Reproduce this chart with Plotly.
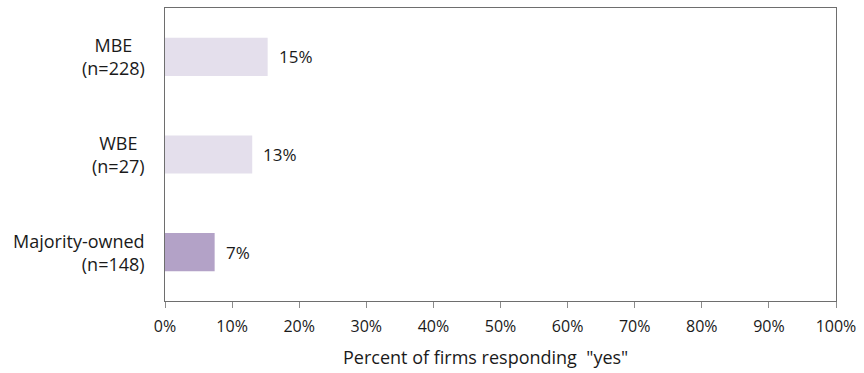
import plotly.graph_objects as go

# Survey results: share of firms answering "yes", by ownership group
groups = ["Majority-owned", "WBE", "MBE"]
sample_sizes = [148, 27, 228]
pct_yes = [7.4, 13.0, 15.3]
bar_colors = ["#b3a2c7", "#e4dfec", "#e4dfec"]
label_align = ["right", "center", "center"]

x_ticks = list(range(0, 101, 10))
x_tick_text = [f"{v}%" for v in x_ticks]
x_title = 'Percent of firms responding  "yes"'

FONT = "'Open Sans', Lato, sans-serif"
TXT = "#1a1a1a"

fig = go.Figure(
    go.Bar(
        y=groups,
        x=pct_yes,
        orientation="h",
        marker=dict(color=bar_colors, line=dict(width=0)),
        width=0.39,
        hoverinfo="skip",
    )
)

# Value labels to the right of each bar
for g, v in zip(groups, pct_yes):
    fig.add_annotation(
        xref="x", yref="y", x=v, y=g, xanchor="left", yanchor="middle",
        xshift=9, text=f"{v:.0f}%", showarrow=False,
        font=dict(family=FONT, size=17, color=TXT),
    )

# Two-line category labels placed beside the axis
for g, n, al in zip(groups, sample_sizes, label_align):
    fig.add_annotation(
        xref="paper", yref="y", x=-0.027, y=g,
        xanchor="right", yanchor="middle", align=al,
        text=f"{g}<br>(n={n})", showarrow=False,
        font=dict(family=FONT, size=18, color=TXT),
    )

# Horizontal axis title
fig.add_annotation(
    xref="paper", yref="paper", x=0.478, y=-0.191,
    xanchor="center", yanchor="middle", text=x_title, showarrow=False,
    font=dict(family=FONT, size=18, color=TXT),
)

fig.update_layout(
    width=864, height=373,
    margin=dict(l=165, r=28, t=8, b=72),
    paper_bgcolor="white", plot_bgcolor="white",
    showlegend=False,
    xaxis=dict(
        range=[0, 100], tickvals=x_ticks, ticktext=x_tick_text,
        ticks="outside", ticklen=6, tickcolor="#8c8c8c",
        ticklabelstandoff=5,
        showgrid=False, zeroline=False,
        showline=True, linecolor="#6e6e6e", linewidth=1, mirror=True,
        tickfont=dict(family=FONT, size=16, color=TXT),
    ),
    yaxis=dict(
        range=[-0.5, 2.5], showticklabels=False, ticks="",
        showgrid=False, zeroline=False,
        showline=True, linecolor="#6e6e6e", linewidth=1, mirror=True,
    ),
)

fig.write_html("out.html")
